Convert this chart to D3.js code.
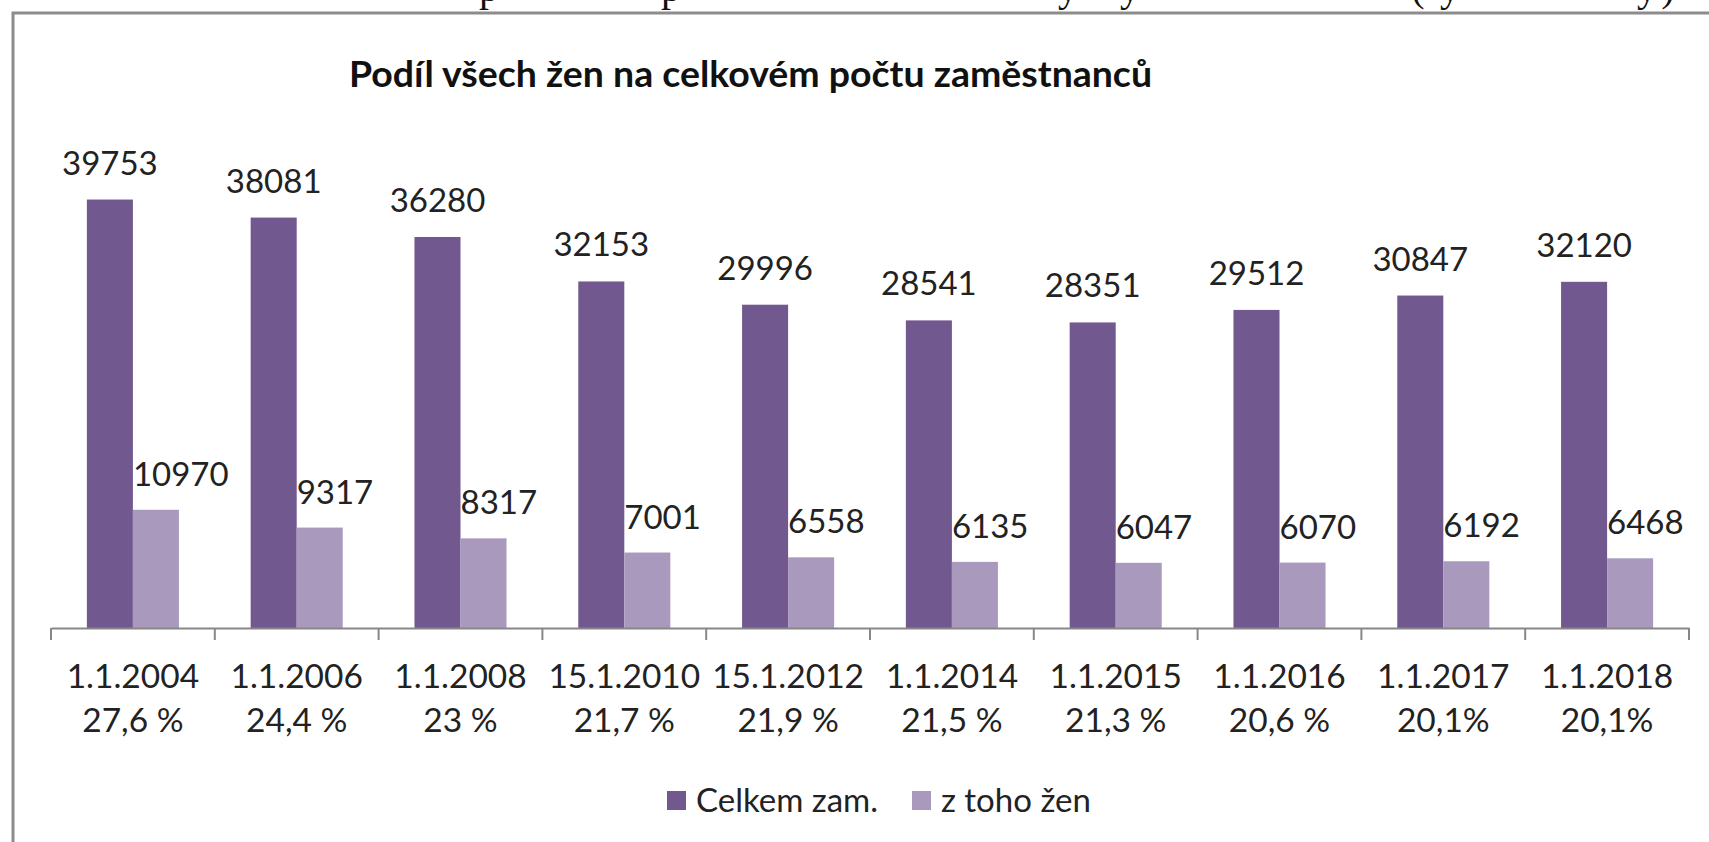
<!doctype html>
<html lang="cs">
<head>
  <meta charset="utf-8">
  <title>Podíl všech žen na celkovém počtu zaměstnanců</title>
  <script src="https://cdn.jsdelivr.net/npm/d3@7"></script>
  <style>
    body { margin: 0; background: #fff; }
    svg { display: block; font-family: Lato, "Open Sans", sans-serif; }
  </style>
</head>
<body>
  <svg id="chart"></svg>

  <script>
    // data
    var dates = ["1.1.2004", "1.1.2006", "1.1.2008", "15.1.2010", "15.1.2012",
                 "1.1.2014", "1.1.2015", "1.1.2016", "1.1.2017", "1.1.2018"];
    var shares = ["27,6 %", "24,4 %", "23 %", "21,7 %", "21,9 %",
                  "21,5 %", "21,3 %", "20,6 %", "20,1%", "20,1%"];
    var celkem = [39753, 38081, 36280, 32153, 29996, 28541, 28351, 29512, 30847, 32120];
    var zeny = [10970, 9317, 8317, 7001, 6558, 6135, 6047, 6070, 6192, 6468];
    var seriesNames = ["Celkem zam.", "z toho žen"];
    var yMax = 45000;

    // cut off line of the page text above the chart frame (only descenders show)
    var topFragments = [["p", 489], ["p", 671], ["y", 1068], ["y", 1130],
                        ["(", 1418], ["y", 1450], ["y", 1647], [")", 1668]];

    var WIDTH = 1709;
    var HEIGHT = 842;
    var colors = ["#71588f", "#a99abd"];

    var svg = d3.select("#chart").attr("width", WIDTH).attr("height", HEIGHT);
    svg.append("rect").attr("width", WIDTH).attr("height", HEIGHT).attr("fill", "#fff");

    // page text fragments
    svg.append("clipPath").attr("id", "topclip")
      .append("rect").attr("x", 0).attr("y", 0).attr("width", WIDTH).attr("height", 11);
    svg.append("g").attr("clip-path", "url(#topclip)")
      .selectAll("text").data(topFragments).enter().append("text")
      .attr("x", function(d){ return d[1]; })
      .attr("y", 1)
      .attr("text-anchor", "middle")
      .style("font-family", "'Liberation Serif', serif")
      .style("font-size", "40px")
      .attr("fill", "#111")
      .text(function(d){ return d[0]; });

    // chart frame
    svg.append("path")
      .attr("d", "M13," + HEIGHT + "V13H" + WIDTH)
      .attr("fill", "none")
      .attr("stroke", "#8c8c8c")
      .attr("stroke-width", 3);

    // title
    svg.append("text")
      .attr("x", 349)
      .attr("y", 87)
      .attr("textLength", 803)
      .attr("lengthAdjust", "spacingAndGlyphs")
      .style("font-weight", "bold")
      .style("font-size", "36px")
      .attr("fill", "#111")
      .text("Podíl všech žen na celkovém počtu zaměstnanců");

    var x = d3.scaleBand()
      .domain(dates)
      .range([51, 1689])
      .paddingInner(0.438)
      .paddingOuter(0.219);

    var xs = d3.scaleBand()
      .domain([0, 1])
      .range([0, x.bandwidth()]);

    var y = d3.scaleLinear()
      .domain([0, yMax])
      .range([628, 143]);

    var series = [celkem, zeny];

    var groups = svg.append("g").selectAll("g")
      .data(dates).enter().append("g")
      .attr("transform", function(d){ return "translate(" + x(d) + ",0)"; });

    groups.selectAll("rect")
      .data(function(d, i){ return series.map(function(s, k){ return {k: k, v: s[i]}; }); })
      .enter().append("rect")
      .attr("x", function(d){ return xs(d.k); })
      .attr("y", function(d){ return y(d.v); })
      .attr("width", xs.bandwidth())
      .attr("height", function(d){ return y(0) - y(d.v); })
      .attr("fill", function(d){ return colors[d.k]; });

    // value labels
    groups.selectAll("text.val")
      .data(function(d, i){ return series.map(function(s, k){ return {k: k, v: s[i]}; }); })
      .enter().append("text")
      .attr("class", "val")
      .attr("x", function(d){ return d.k == 0 ? xs(0) + xs.bandwidth() / 2 : xs(1); })
      .attr("y", function(d){ return y(d.v) - (d.k == 0 ? 25 : 24); })
      .attr("text-anchor", function(d){ return d.k == 0 ? "middle" : "start"; })
      .style("font-size", "33px")
      .attr("fill", "#222")
      .text(function(d){ return d.v; });

    // x axis
    var axis = svg.append("g")
      .attr("transform", "translate(0," + y(0) + ")")
      .call(d3.axisBottom(x).tickValues([]).tickSizeOuter(0));
    axis.select(".domain").attr("stroke", "#878787").attr("stroke-width", 2);

    var edges = dates.map(function(d){ return x(d) - x.step() * x.paddingInner() / 2; });
    edges.push(x.range()[1]);
    axis.selectAll("line.edge")
      .data(edges).enter().append("line")
      .attr("class", "edge")
      .attr("x1", function(d){ return d; })
      .attr("x2", function(d){ return d; })
      .attr("y1", 0)
      .attr("y2", 12)
      .attr("stroke", "#878787")
      .attr("stroke-width", 2);

    var cats = svg.append("g").selectAll("text")
      .data(dates).enter().append("text")
      .attr("text-anchor", "middle")
      .style("font-size", "33.5px")
      .attr("fill", "#222");
    cats.append("tspan")
      .attr("x", function(d){ return x(d) + x.bandwidth() / 2; })
      .attr("y", 688)
      .text(function(d){ return d; });
    cats.append("tspan")
      .attr("x", function(d){ return x(d) + x.bandwidth() / 2; })
      .attr("y", 732)
      .text(function(d, i){ return shares[i]; });

    // legend
    var legendX = [667, 912];
    var legend = svg.append("g").selectAll("g")
      .data(seriesNames).enter().append("g")
      .attr("transform", function(d, i){ return "translate(" + legendX[i] + ",791)"; });
    legend.append("rect")
      .attr("width", 19)
      .attr("height", 19)
      .attr("fill", function(d, i){ return colors[i]; });
    legend.append("text")
      .attr("x", 29)
      .attr("y", 21)
      .style("font-size", "33px")
      .attr("fill", "#222")
      .text(function(d){ return d; });
  </script>
</body>
</html>
